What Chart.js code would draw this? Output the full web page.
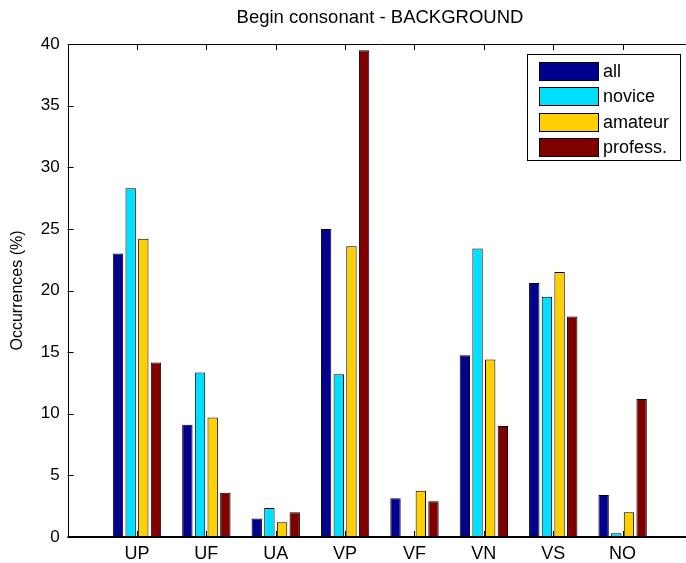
<!DOCTYPE html>
<html>
<head>
<meta charset="utf-8">
<script src="https://cdn.jsdelivr.net/npm/chart.js@4/dist/chart.umd.min.js"></script>
<style>
  html, body { margin: 0; padding: 0; overflow: hidden; background: #fff; }
  #wrap { width: 760px; height: 563px; }
</style>
</head>
<body>
<div id="wrap"><canvas id="c" width="760" height="563"></canvas></div>
<script>
// Occurrence of each begin-consonant class, per listener group (%)
const categories = ['UP', 'UF', 'UA', 'VP', 'VF', 'VN', 'VS', 'NO'];
const seriesNames = ['all', 'novice', 'amateur', 'profess.'];
const allValues      = [23.0,  9.1,  1.5, 25.0, 3.15, 14.75, 20.6, 3.4];
const noviceValues   = [28.3, 13.35, 2.35, 13.2, 0.0, 23.4, 19.5, 0.3];
const amateurValues  = [24.2,  9.7,  1.2, 23.6, 3.75, 14.4, 21.5, 2.0];
const professValues  = [14.15, 3.6,  2.0, 39.5, 2.9,  9.0, 17.9, 11.2];
const yTicks = [0, 5, 10, 15, 20, 25, 30, 35, 40];

const seriesColors = ['#00008f', '#00dfff', '#ffcf00', '#800000'];
const FONT = "'Liberation Sans', Arial, Helvetica, sans-serif";

// empty slots on each side give the axis its [0, 9] range
const labels = ['', ...categories, ''];
const pad = arr => [null, ...arr, null];

const datasets = [allValues, noviceValues, amateurValues, professValues].map((vals, i) => ({
  label: seriesNames[i],
  data: pad(vals),
  backgroundColor: seriesColors[i],
  borderColor: '#000',
  borderWidth: 1,
  borderSkipped: false,
  categoryPercentage: 0.73,
  barPercentage: 0.82
}));

// box around the axes with inward tick marks on all four sides
const axesFrame = {
  id: 'axesFrame',
  afterDatasetsDraw(chart) {
    const { ctx, chartArea: a, scales: { x, y } } = chart;
    ctx.save();
    ctx.strokeStyle = '#000';
    ctx.lineWidth = 1;
    ctx.beginPath();
    ctx.rect(Math.round(a.left) + 0.5, Math.round(a.top) + 0.5,
             Math.round(a.right - a.left), Math.round(a.bottom - a.top));
    const tl = 6;
    yTicks.forEach(v => {
      const py = Math.round(y.getPixelForValue(v)) + 0.5;
      ctx.moveTo(a.left, py); ctx.lineTo(a.left + tl, py);
      ctx.moveTo(a.right, py); ctx.lineTo(a.right - tl, py);
    });
    categories.forEach((c, i) => {
      const px = Math.round(x.getPixelForValue(i + 1)) + 0.5;
      ctx.moveTo(px, a.top); ctx.lineTo(px, a.top + tl);
      ctx.moveTo(px, a.bottom); ctx.lineTo(px, a.bottom - tl);
    });
    ctx.stroke();
    // heavier baseline under the bars
    ctx.beginPath();
    ctx.lineWidth = 2;
    ctx.moveTo(a.left, Math.round(a.bottom));
    ctx.lineTo(a.right, Math.round(a.bottom));
    ctx.stroke();
    ctx.restore();
  }
};

// boxed legend in the upper right corner of the axes
const boxLegend = {
  id: 'boxLegend',
  afterDraw(chart) {
    const { ctx } = chart;
    const bx = 527.5, by = 54.5, bw = 153, bh = 106;
    ctx.save();
    ctx.fillStyle = '#fff';
    ctx.strokeStyle = '#000';
    ctx.lineWidth = 1;
    ctx.fillRect(bx, by, bw, bh);
    ctx.strokeRect(bx, by, bw, bh);
    ctx.font = '18px ' + FONT;
    ctx.textBaseline = 'middle';
    ctx.textAlign = 'left';
    chart.data.datasets.forEach((ds, i) => {
      const cy = 71 + i * 25.4;
      ctx.fillStyle = ds.backgroundColor;
      ctx.fillRect(539.5, Math.round(cy - 9) + 0.5, 59, 18);
      ctx.strokeRect(539.5, Math.round(cy - 9) + 0.5, 59, 18);
      ctx.fillStyle = '#000';
      ctx.fillText(ds.label, 603, cy + 1);
    });
    ctx.restore();
  }
};

new Chart(document.getElementById('c'), {
  type: 'bar',
  data: { labels, datasets },
  options: {
    responsive: false,
    animation: false,
    devicePixelRatio: 1,
    layout: { padding: 0 },
    plugins: {
      legend: { display: false },
      tooltip: { enabled: false },
      title: {
        display: true,
        text: 'Begin consonant - BACKGROUND',
        color: '#000',
        font: { family: FONT, size: 18.5, weight: 'normal' },
        padding: { top: 6.9, bottom: 14.9 }
      }
    },
    scales: {
      x: {
        offset: false,
        grid: { display: false, drawTicks: false },
        border: { display: false },
        ticks: { color: '#000', font: { family: FONT, size: 18 }, padding: 6, maxRotation: 0, autoSkip: false },
        afterFit(s) { s.height = 26; }
      },
      y: {
        min: 0, max: 40,
        grid: { display: false, drawTicks: false },
        border: { display: false },
        ticks: { stepSize: 5, color: '#000', font: { family: FONT, size: 17 }, padding: 8 },
        title: {
          display: true,
          text: 'Occurrences (%)',
          color: '#000',
          font: { family: FONT, size: 16 },
          padding: { top: 8.4, bottom: 0 }
        },
        afterFit(s) { s.width = 67.6; }
      },
      yRight: {
        position: 'right',
        min: 0, max: 40,
        grid: { display: false, drawTicks: false },
        border: { display: false },
        ticks: { display: false },
        afterFit(s) { s.width = 68; }
      }
    }
  },
  plugins: [axesFrame, boxLegend]
});
</script>
</body>
</html>
